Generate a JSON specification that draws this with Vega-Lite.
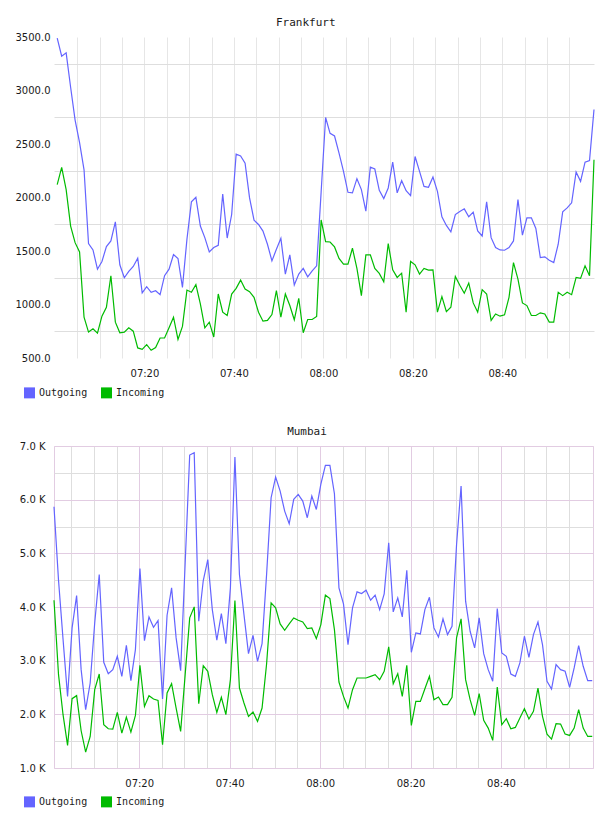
{
  "$schema": "https://vega.github.io/schema/vega-lite/v6.json",
  "background": "white",
  "padding": {"top": 17, "left": 15, "right": 5, "bottom": 5},
  "config": {
    "font": "DejaVu Sans",
    "view": {"stroke": null},
    "axis": {"labelFont": "DejaVu Sans", "labelFontSize": 10, "labelColor": "#1a1a1a", "domain": false, "ticks": false},
    "legend": {"labelFont": "DejaVu Sans Mono", "labelFontSize": 10, "labelColor": "#1a1a1a"},
    "title": {"font": "DejaVu Sans Mono", "fontSize": 11, "fontWeight": "normal", "color": "#1a1a1a"}
  },
  "concat": [
    {
      "width": 540,
      "height": 321,
      "title": {"text": "Frankfurt", "frame": "bounds"},
      "data": {
        "values": [
          {"time": "2024-01-01T07:00:30Z", "Outgoing": 3490, "Incoming": 2120},
          {"time": "2024-01-01T07:01:30Z", "Outgoing": 3321, "Incoming": 2281},
          {"time": "2024-01-01T07:02:30Z", "Outgoing": 3352, "Incoming": 2074},
          {"time": "2024-01-01T07:03:30Z", "Outgoing": 3030, "Incoming": 1733},
          {"time": "2024-01-01T07:04:30Z", "Outgoing": 2724, "Incoming": 1578},
          {"time": "2024-01-01T07:05:30Z", "Outgoing": 2513, "Incoming": 1491},
          {"time": "2024-01-01T07:06:30Z", "Outgoing": 2259, "Incoming": 881},
          {"time": "2024-01-01T07:07:30Z", "Outgoing": 1569, "Incoming": 742},
          {"time": "2024-01-01T07:08:30Z", "Outgoing": 1510, "Incoming": 773},
          {"time": "2024-01-01T07:09:30Z", "Outgoing": 1330, "Incoming": 733},
          {"time": "2024-01-01T07:10:30Z", "Outgoing": 1402, "Incoming": 891},
          {"time": "2024-01-01T07:11:30Z", "Outgoing": 1541, "Incoming": 974},
          {"time": "2024-01-01T07:12:30Z", "Outgoing": 1594, "Incoming": 1269},
          {"time": "2024-01-01T07:13:30Z", "Outgoing": 1773, "Incoming": 835},
          {"time": "2024-01-01T07:14:30Z", "Outgoing": 1371, "Incoming": 736},
          {"time": "2024-01-01T07:15:30Z", "Outgoing": 1250, "Incoming": 742},
          {"time": "2024-01-01T07:16:30Z", "Outgoing": 1309, "Incoming": 782},
          {"time": "2024-01-01T07:17:30Z", "Outgoing": 1355, "Incoming": 751},
          {"time": "2024-01-01T07:18:30Z", "Outgoing": 1433, "Incoming": 594},
          {"time": "2024-01-01T07:19:30Z", "Outgoing": 1108, "Incoming": 581},
          {"time": "2024-01-01T07:20:30Z", "Outgoing": 1166, "Incoming": 625},
          {"time": "2024-01-01T07:21:30Z", "Outgoing": 1114, "Incoming": 572},
          {"time": "2024-01-01T07:22:30Z", "Outgoing": 1129, "Incoming": 597},
          {"time": "2024-01-01T07:23:30Z", "Outgoing": 1092, "Incoming": 687},
          {"time": "2024-01-01T07:24:30Z", "Outgoing": 1269, "Incoming": 687},
          {"time": "2024-01-01T07:25:30Z", "Outgoing": 1330, "Incoming": 782},
          {"time": "2024-01-01T07:26:30Z", "Outgoing": 1467, "Incoming": 881},
          {"time": "2024-01-01T07:27:30Z", "Outgoing": 1430, "Incoming": 674},
          {"time": "2024-01-01T07:28:30Z", "Outgoing": 1160, "Incoming": 795},
          {"time": "2024-01-01T07:29:30Z", "Outgoing": 1609, "Incoming": 1135},
          {"time": "2024-01-01T07:30:30Z", "Outgoing": 1959, "Incoming": 1114},
          {"time": "2024-01-01T07:31:30Z", "Outgoing": 2002, "Incoming": 1185},
          {"time": "2024-01-01T07:32:30Z", "Outgoing": 1733, "Incoming": 1005},
          {"time": "2024-01-01T07:33:30Z", "Outgoing": 1625, "Incoming": 782},
          {"time": "2024-01-01T07:34:30Z", "Outgoing": 1492, "Incoming": 835},
          {"time": "2024-01-01T07:35:30Z", "Outgoing": 1532, "Incoming": 696},
          {"time": "2024-01-01T07:36:30Z", "Outgoing": 1553, "Incoming": 1098},
          {"time": "2024-01-01T07:37:30Z", "Outgoing": 2033, "Incoming": 928},
          {"time": "2024-01-01T07:38:30Z", "Outgoing": 1621, "Incoming": 897},
          {"time": "2024-01-01T07:39:30Z", "Outgoing": 1841, "Incoming": 1098},
          {"time": "2024-01-01T07:40:30Z", "Outgoing": 2405, "Incoming": 1151},
          {"time": "2024-01-01T07:41:30Z", "Outgoing": 2389, "Incoming": 1228},
          {"time": "2024-01-01T07:42:30Z", "Outgoing": 2321, "Incoming": 1144},
          {"time": "2024-01-01T07:43:30Z", "Outgoing": 1996, "Incoming": 1120},
          {"time": "2024-01-01T07:44:30Z", "Outgoing": 1789, "Incoming": 1067},
          {"time": "2024-01-01T07:45:30Z", "Outgoing": 1748, "Incoming": 928},
          {"time": "2024-01-01T07:46:30Z", "Outgoing": 1686, "Incoming": 844},
          {"time": "2024-01-01T07:47:30Z", "Outgoing": 1563, "Incoming": 851},
          {"time": "2024-01-01T07:48:30Z", "Outgoing": 1408, "Incoming": 906},
          {"time": "2024-01-01T07:49:30Z", "Outgoing": 1516, "Incoming": 1129},
          {"time": "2024-01-01T07:50:30Z", "Outgoing": 1618, "Incoming": 881},
          {"time": "2024-01-01T07:51:30Z", "Outgoing": 1284, "Incoming": 1098},
          {"time": "2024-01-01T07:52:30Z", "Outgoing": 1464, "Incoming": 990},
          {"time": "2024-01-01T07:53:30Z", "Outgoing": 1182, "Incoming": 857},
          {"time": "2024-01-01T07:54:30Z", "Outgoing": 1284, "Incoming": 1058},
          {"time": "2024-01-01T07:55:30Z", "Outgoing": 1337, "Incoming": 736},
          {"time": "2024-01-01T07:56:30Z", "Outgoing": 1259, "Incoming": 860},
          {"time": "2024-01-01T07:57:30Z", "Outgoing": 1315, "Incoming": 860},
          {"time": "2024-01-01T07:58:30Z", "Outgoing": 1361, "Incoming": 888},
          {"time": "2024-01-01T07:59:30Z", "Outgoing": 2050, "Incoming": 1790},
          {"time": "2024-01-01T08:00:30Z", "Outgoing": 2748, "Incoming": 1587},
          {"time": "2024-01-01T08:01:30Z", "Outgoing": 2600, "Incoming": 1584},
          {"time": "2024-01-01T08:02:30Z", "Outgoing": 2575, "Incoming": 1538},
          {"time": "2024-01-01T08:03:30Z", "Outgoing": 2414, "Incoming": 1430},
          {"time": "2024-01-01T08:04:30Z", "Outgoing": 2244, "Incoming": 1377},
          {"time": "2024-01-01T08:05:30Z", "Outgoing": 2049, "Incoming": 1377},
          {"time": "2024-01-01T08:06:30Z", "Outgoing": 2043, "Incoming": 1526},
          {"time": "2024-01-01T08:07:30Z", "Outgoing": 2176, "Incoming": 1337},
          {"time": "2024-01-01T08:08:30Z", "Outgoing": 2074, "Incoming": 1083},
          {"time": "2024-01-01T08:09:30Z", "Outgoing": 1872, "Incoming": 1464},
          {"time": "2024-01-01T08:10:30Z", "Outgoing": 2284, "Incoming": 1464},
          {"time": "2024-01-01T08:11:30Z", "Outgoing": 2266, "Incoming": 1337},
          {"time": "2024-01-01T08:12:30Z", "Outgoing": 2067, "Incoming": 1290},
          {"time": "2024-01-01T08:13:30Z", "Outgoing": 1990, "Incoming": 1213},
          {"time": "2024-01-01T08:14:30Z", "Outgoing": 2089, "Incoming": 1569},
          {"time": "2024-01-01T08:15:30Z", "Outgoing": 2330, "Incoming": 1324},
          {"time": "2024-01-01T08:16:30Z", "Outgoing": 2043, "Incoming": 1253},
          {"time": "2024-01-01T08:17:30Z", "Outgoing": 2157, "Incoming": 1293},
          {"time": "2024-01-01T08:18:30Z", "Outgoing": 2064, "Incoming": 928},
          {"time": "2024-01-01T08:19:30Z", "Outgoing": 2018, "Incoming": 1402},
          {"time": "2024-01-01T08:20:30Z", "Outgoing": 2383, "Incoming": 1371},
          {"time": "2024-01-01T08:21:30Z", "Outgoing": 2244, "Incoming": 1284},
          {"time": "2024-01-01T08:22:30Z", "Outgoing": 2104, "Incoming": 1337},
          {"time": "2024-01-01T08:23:30Z", "Outgoing": 2095, "Incoming": 1321},
          {"time": "2024-01-01T08:24:30Z", "Outgoing": 2191, "Incoming": 1324},
          {"time": "2024-01-01T08:25:30Z", "Outgoing": 2058, "Incoming": 928},
          {"time": "2024-01-01T08:26:30Z", "Outgoing": 1820, "Incoming": 1074},
          {"time": "2024-01-01T08:27:30Z", "Outgoing": 1739, "Incoming": 934},
          {"time": "2024-01-01T08:28:30Z", "Outgoing": 1680, "Incoming": 974},
          {"time": "2024-01-01T08:29:30Z", "Outgoing": 1841, "Incoming": 1262},
          {"time": "2024-01-01T08:30:30Z", "Outgoing": 1870, "Incoming": 1180},
          {"time": "2024-01-01T08:31:30Z", "Outgoing": 1894, "Incoming": 1105},
          {"time": "2024-01-01T08:32:30Z", "Outgoing": 1820, "Incoming": 1200},
          {"time": "2024-01-01T08:33:30Z", "Outgoing": 1863, "Incoming": 1015},
          {"time": "2024-01-01T08:34:30Z", "Outgoing": 1687, "Incoming": 928},
          {"time": "2024-01-01T08:35:30Z", "Outgoing": 1640, "Incoming": 1139},
          {"time": "2024-01-01T08:36:30Z", "Outgoing": 1959, "Incoming": 1098},
          {"time": "2024-01-01T08:37:30Z", "Outgoing": 1625, "Incoming": 851},
          {"time": "2024-01-01T08:38:30Z", "Outgoing": 1532, "Incoming": 912},
          {"time": "2024-01-01T08:39:30Z", "Outgoing": 1510, "Incoming": 891},
          {"time": "2024-01-01T08:40:30Z", "Outgoing": 1507, "Incoming": 903},
          {"time": "2024-01-01T08:41:30Z", "Outgoing": 1532, "Incoming": 1067},
          {"time": "2024-01-01T08:42:30Z", "Outgoing": 1594, "Incoming": 1392},
          {"time": "2024-01-01T08:43:30Z", "Outgoing": 1981, "Incoming": 1238},
          {"time": "2024-01-01T08:44:30Z", "Outgoing": 1649, "Incoming": 1015},
          {"time": "2024-01-01T08:45:30Z", "Outgoing": 1810, "Incoming": 990},
          {"time": "2024-01-01T08:46:30Z", "Outgoing": 1810, "Incoming": 897},
          {"time": "2024-01-01T08:47:30Z", "Outgoing": 1711, "Incoming": 897},
          {"time": "2024-01-01T08:48:30Z", "Outgoing": 1439, "Incoming": 922},
          {"time": "2024-01-01T08:49:30Z", "Outgoing": 1445, "Incoming": 912},
          {"time": "2024-01-01T08:50:30Z", "Outgoing": 1414, "Incoming": 835},
          {"time": "2024-01-01T08:51:30Z", "Outgoing": 1392, "Incoming": 835},
          {"time": "2024-01-01T08:52:30Z", "Outgoing": 1563, "Incoming": 1114},
          {"time": "2024-01-01T08:53:30Z", "Outgoing": 1866, "Incoming": 1083},
          {"time": "2024-01-01T08:54:30Z", "Outgoing": 1903, "Incoming": 1114},
          {"time": "2024-01-01T08:55:30Z", "Outgoing": 1950, "Incoming": 1092},
          {"time": "2024-01-01T08:56:30Z", "Outgoing": 2238, "Incoming": 1253},
          {"time": "2024-01-01T08:57:30Z", "Outgoing": 2151, "Incoming": 1244},
          {"time": "2024-01-01T08:58:30Z", "Outgoing": 2330, "Incoming": 1361},
          {"time": "2024-01-01T08:59:30Z", "Outgoing": 2346, "Incoming": 1269},
          {"time": "2024-01-01T09:00:30Z", "Outgoing": 2823, "Incoming": 2352}
        ]
      },
      "transform": [{"fold": ["Outgoing", "Incoming"], "as": ["series", "value"]}],
      "mark": {"type": "line", "strokeWidth": 1.2},
      "encoding": {
        "x": {
          "field": "time",
          "type": "temporal",
          "title": null,
          "scale": {"type": "utc", "nice": false, "domain": [1704092387000, 1704099630000]},
          "axis": {
            "values": [1704092700000, 1704093000000, 1704093300000, 1704093600000, 1704093900000, 1704094200000, 1704094500000, 1704094800000, 1704095100000, 1704095400000, 1704095700000, 1704096000000, 1704096300000, 1704096600000, 1704096900000, 1704097200000, 1704097500000, 1704097800000, 1704098100000, 1704098400000, 1704098700000, 1704099000000, 1704099300000],
            "labelExpr": "utcminutes(datum.value) % 20 == 0 ? utcFormat(datum.value, '%H:%M') : ''",
            "labelOverlap": false,
            "labelFlush": false,
            "gridColor": "#e6e6e6",
            "labelPadding": 10
          }
        },
        "y": {
          "field": "value",
          "type": "quantitative",
          "title": null,
          "scale": {"domain": [500, 3500], "nice": false, "zero": false},
          "axis": {
            "values": [500, 750, 1000, 1250, 1500, 1750, 2000, 2250, 2500, 2750, 3000, 3250, 3500],
            "labelExpr": "datum.value % 500 == 0 ? format(datum.value, '.1f') : ''",
            "labelOverlap": false,
            "gridColor": {"condition": {"test": "datum.value % 500 == 0", "value": "transparent"}, "value": "#dedede"},
            "labelPadding": 4
          }
        },
        "color": {
          "field": "series",
          "type": "nominal",
          "title": null,
          "scale": {"domain": ["Outgoing", "Incoming"], "range": ["#6464ff", "#00bb00"]},
          "legend": {
            "orient": "none",
            "legendX": -30,
            "legendY": 350,
            "direction": "horizontal",
            "symbolType": "square",
            "symbolSize": 30,
            "symbolStrokeWidth": 5.5,
            "labelOffset": 4,
            "columnPadding": 4,
            "padding": 0
          }
        }
      }
    },
    {
      "width": 539,
      "height": 322,
      "title": {"text": "Mumbai", "frame": "bounds"},
      "view": {"stroke": "#e2cce2"},
      "data": {
        "values": [
          {"time": "2024-01-01T07:01:10Z", "Outgoing": 5868, "Incoming": 4126},
          {"time": "2024-01-01T07:02:10Z", "Outgoing": 4500, "Incoming": 2739},
          {"time": "2024-01-01T07:03:10Z", "Outgoing": 3400, "Incoming": 1993},
          {"time": "2024-01-01T07:04:10Z", "Outgoing": 2335, "Incoming": 1421},
          {"time": "2024-01-01T07:05:10Z", "Outgoing": 3610, "Incoming": 2292},
          {"time": "2024-01-01T07:06:10Z", "Outgoing": 4213, "Incoming": 2348},
          {"time": "2024-01-01T07:07:10Z", "Outgoing": 2833, "Incoming": 1694},
          {"time": "2024-01-01T07:08:10Z", "Outgoing": 2086, "Incoming": 1296},
          {"time": "2024-01-01T07:09:10Z", "Outgoing": 2584, "Incoming": 1588},
          {"time": "2024-01-01T07:10:10Z", "Outgoing": 3703, "Incoming": 2459},
          {"time": "2024-01-01T07:11:10Z", "Outgoing": 4605, "Incoming": 2752},
          {"time": "2024-01-01T07:12:10Z", "Outgoing": 2970, "Incoming": 1806},
          {"time": "2024-01-01T07:13:10Z", "Outgoing": 2758, "Incoming": 1731},
          {"time": "2024-01-01T07:14:10Z", "Outgoing": 2833, "Incoming": 1725},
          {"time": "2024-01-01T07:15:10Z", "Outgoing": 3081, "Incoming": 2036},
          {"time": "2024-01-01T07:16:10Z", "Outgoing": 2708, "Incoming": 1651},
          {"time": "2024-01-01T07:17:10Z", "Outgoing": 3287, "Incoming": 1949},
          {"time": "2024-01-01T07:18:10Z", "Outgoing": 2627, "Incoming": 1669},
          {"time": "2024-01-01T07:19:10Z", "Outgoing": 3206, "Incoming": 1980},
          {"time": "2024-01-01T07:20:10Z", "Outgoing": 4717, "Incoming": 2914},
          {"time": "2024-01-01T07:21:10Z", "Outgoing": 3374, "Incoming": 2148},
          {"time": "2024-01-01T07:22:10Z", "Outgoing": 3815, "Incoming": 2348},
          {"time": "2024-01-01T07:23:10Z", "Outgoing": 3623, "Incoming": 2285},
          {"time": "2024-01-01T07:24:10Z", "Outgoing": 3747, "Incoming": 2260},
          {"time": "2024-01-01T07:25:10Z", "Outgoing": 2285, "Incoming": 1433},
          {"time": "2024-01-01T07:26:10Z", "Outgoing": 3847, "Incoming": 2397},
          {"time": "2024-01-01T07:27:10Z", "Outgoing": 4357, "Incoming": 2571},
          {"time": "2024-01-01T07:28:10Z", "Outgoing": 3424, "Incoming": 2117},
          {"time": "2024-01-01T07:29:10Z", "Outgoing": 2814, "Incoming": 1682},
          {"time": "2024-01-01T07:30:10Z", "Outgoing": 4820, "Incoming": 2740},
          {"time": "2024-01-01T07:31:10Z", "Outgoing": 6832, "Incoming": 3797},
          {"time": "2024-01-01T07:32:10Z", "Outgoing": 6876, "Incoming": 4002},
          {"time": "2024-01-01T07:33:10Z", "Outgoing": 3735, "Incoming": 2198},
          {"time": "2024-01-01T07:34:10Z", "Outgoing": 4493, "Incoming": 2907},
          {"time": "2024-01-01T07:35:10Z", "Outgoing": 4885, "Incoming": 2802},
          {"time": "2024-01-01T07:36:10Z", "Outgoing": 3952, "Incoming": 2366},
          {"time": "2024-01-01T07:37:10Z", "Outgoing": 3380, "Incoming": 2036},
          {"time": "2024-01-01T07:38:10Z", "Outgoing": 3878, "Incoming": 2317},
          {"time": "2024-01-01T07:39:10Z", "Outgoing": 3318, "Incoming": 1993},
          {"time": "2024-01-01T07:40:10Z", "Outgoing": 4357, "Incoming": 2646},
          {"time": "2024-01-01T07:41:10Z", "Outgoing": 6795, "Incoming": 4120},
          {"time": "2024-01-01T07:42:10Z", "Outgoing": 4605, "Incoming": 2490},
          {"time": "2024-01-01T07:43:10Z", "Outgoing": 3859, "Incoming": 2211},
          {"time": "2024-01-01T07:44:10Z", "Outgoing": 3131, "Incoming": 1962},
          {"time": "2024-01-01T07:45:10Z", "Outgoing": 3473, "Incoming": 2043},
          {"time": "2024-01-01T07:46:10Z", "Outgoing": 2988, "Incoming": 1869},
          {"time": "2024-01-01T07:47:10Z", "Outgoing": 3318, "Incoming": 2117},
          {"time": "2024-01-01T07:48:10Z", "Outgoing": 4605, "Incoming": 2938},
          {"time": "2024-01-01T07:49:10Z", "Outgoing": 6036, "Incoming": 4076},
          {"time": "2024-01-01T07:50:10Z", "Outgoing": 6422, "Incoming": 3983},
          {"time": "2024-01-01T07:51:10Z", "Outgoing": 6160, "Incoming": 3685},
          {"time": "2024-01-01T07:52:10Z", "Outgoing": 5787, "Incoming": 3567},
          {"time": "2024-01-01T07:53:10Z", "Outgoing": 5551, "Incoming": 3685},
          {"time": "2024-01-01T07:54:10Z", "Outgoing": 6005, "Incoming": 3797},
          {"time": "2024-01-01T07:55:10Z", "Outgoing": 6098, "Incoming": 3753},
          {"time": "2024-01-01T07:56:10Z", "Outgoing": 5974, "Incoming": 3722},
          {"time": "2024-01-01T07:57:10Z", "Outgoing": 5663, "Incoming": 3598},
          {"time": "2024-01-01T07:58:10Z", "Outgoing": 6067, "Incoming": 3610},
          {"time": "2024-01-01T07:59:10Z", "Outgoing": 5818, "Incoming": 3411},
          {"time": "2024-01-01T08:00:10Z", "Outgoing": 6290, "Incoming": 3672},
          {"time": "2024-01-01T08:01:10Z", "Outgoing": 6639, "Incoming": 4220},
          {"time": "2024-01-01T08:02:10Z", "Outgoing": 6639, "Incoming": 4157},
          {"time": "2024-01-01T08:03:10Z", "Outgoing": 6110, "Incoming": 3579},
          {"time": "2024-01-01T08:04:10Z", "Outgoing": 4357, "Incoming": 2602},
          {"time": "2024-01-01T08:05:10Z", "Outgoing": 4058, "Incoming": 2335},
          {"time": "2024-01-01T08:06:10Z", "Outgoing": 3299, "Incoming": 2117},
          {"time": "2024-01-01T08:07:10Z", "Outgoing": 3983, "Incoming": 2459},
          {"time": "2024-01-01T08:08:10Z", "Outgoing": 4282, "Incoming": 2677},
          {"time": "2024-01-01T08:09:10Z", "Outgoing": 4251, "Incoming": 2677},
          {"time": "2024-01-01T08:10:10Z", "Outgoing": 4313, "Incoming": 2677},
          {"time": "2024-01-01T08:11:10Z", "Outgoing": 4126, "Incoming": 2708},
          {"time": "2024-01-01T08:12:10Z", "Outgoing": 4220, "Incoming": 2739},
          {"time": "2024-01-01T08:13:10Z", "Outgoing": 3952, "Incoming": 2646},
          {"time": "2024-01-01T08:14:10Z", "Outgoing": 4245, "Incoming": 2802},
          {"time": "2024-01-01T08:15:10Z", "Outgoing": 5196, "Incoming": 3256},
          {"time": "2024-01-01T08:16:10Z", "Outgoing": 3909, "Incoming": 2571},
          {"time": "2024-01-01T08:17:10Z", "Outgoing": 4170, "Incoming": 2758},
          {"time": "2024-01-01T08:18:10Z", "Outgoing": 3815, "Incoming": 2335},
          {"time": "2024-01-01T08:19:10Z", "Outgoing": 4686, "Incoming": 2914},
          {"time": "2024-01-01T08:20:10Z", "Outgoing": 3156, "Incoming": 1794},
          {"time": "2024-01-01T08:21:10Z", "Outgoing": 3517, "Incoming": 2242},
          {"time": "2024-01-01T08:22:10Z", "Outgoing": 3498, "Incoming": 2242},
          {"time": "2024-01-01T08:23:10Z", "Outgoing": 3952, "Incoming": 2478},
          {"time": "2024-01-01T08:24:10Z", "Outgoing": 4182, "Incoming": 2708},
          {"time": "2024-01-01T08:25:10Z", "Outgoing": 3610, "Incoming": 2273},
          {"time": "2024-01-01T08:26:10Z", "Outgoing": 3442, "Incoming": 2323},
          {"time": "2024-01-01T08:27:10Z", "Outgoing": 3778, "Incoming": 2180},
          {"time": "2024-01-01T08:28:10Z", "Outgoing": 3486, "Incoming": 2180},
          {"time": "2024-01-01T08:29:10Z", "Outgoing": 3641, "Incoming": 2317},
          {"time": "2024-01-01T08:30:10Z", "Outgoing": 5160, "Incoming": 3424},
          {"time": "2024-01-01T08:31:10Z", "Outgoing": 6254, "Incoming": 3778},
          {"time": "2024-01-01T08:32:10Z", "Outgoing": 4108, "Incoming": 2646},
          {"time": "2024-01-01T08:33:10Z", "Outgoing": 3548, "Incoming": 2273},
          {"time": "2024-01-01T08:34:10Z", "Outgoing": 3237, "Incoming": 1980},
          {"time": "2024-01-01T08:35:10Z", "Outgoing": 3797, "Incoming": 2385},
          {"time": "2024-01-01T08:36:10Z", "Outgoing": 3131, "Incoming": 1888},
          {"time": "2024-01-01T08:37:10Z", "Outgoing": 2833, "Incoming": 1744},
          {"time": "2024-01-01T08:38:10Z", "Outgoing": 2615, "Incoming": 1514},
          {"time": "2024-01-01T08:39:10Z", "Outgoing": 3971, "Incoming": 2509},
          {"time": "2024-01-01T08:40:10Z", "Outgoing": 3144, "Incoming": 1806},
          {"time": "2024-01-01T08:41:10Z", "Outgoing": 3081, "Incoming": 1918},
          {"time": "2024-01-01T08:42:10Z", "Outgoing": 2752, "Incoming": 1731},
          {"time": "2024-01-01T08:43:10Z", "Outgoing": 2708, "Incoming": 1756},
          {"time": "2024-01-01T08:44:10Z", "Outgoing": 2957, "Incoming": 1931},
          {"time": "2024-01-01T08:45:10Z", "Outgoing": 3455, "Incoming": 2105},
          {"time": "2024-01-01T08:46:10Z", "Outgoing": 3063, "Incoming": 1912},
          {"time": "2024-01-01T08:47:10Z", "Outgoing": 3486, "Incoming": 2055},
          {"time": "2024-01-01T08:48:10Z", "Outgoing": 3722, "Incoming": 2490},
          {"time": "2024-01-01T08:49:10Z", "Outgoing": 3299, "Incoming": 1962},
          {"time": "2024-01-01T08:50:10Z", "Outgoing": 2615, "Incoming": 1632},
          {"time": "2024-01-01T08:51:10Z", "Outgoing": 2472, "Incoming": 1539},
          {"time": "2024-01-01T08:52:10Z", "Outgoing": 2926, "Incoming": 1825},
          {"time": "2024-01-01T08:53:10Z", "Outgoing": 2833, "Incoming": 1819},
          {"time": "2024-01-01T08:54:10Z", "Outgoing": 2802, "Incoming": 1632},
          {"time": "2024-01-01T08:55:10Z", "Outgoing": 2503, "Incoming": 1607},
          {"time": "2024-01-01T08:56:10Z", "Outgoing": 2864, "Incoming": 1744},
          {"time": "2024-01-01T08:57:10Z", "Outgoing": 3281, "Incoming": 2086},
          {"time": "2024-01-01T08:58:10Z", "Outgoing": 2895, "Incoming": 1744},
          {"time": "2024-01-01T08:59:10Z", "Outgoing": 2627, "Incoming": 1588},
          {"time": "2024-01-01T09:00:10Z", "Outgoing": 2627, "Incoming": 1588}
        ]
      },
      "transform": [{"fold": ["Outgoing", "Incoming"], "as": ["series", "value"]}],
      "mark": {"type": "line", "strokeWidth": 1.2},
      "encoding": {
        "x": {
          "field": "time",
          "type": "temporal",
          "title": null,
          "scale": {"type": "utc", "nice": false, "domain": [1704092470000, 1704099620000]},
          "axis": {
            "values": [1704092700000, 1704093000000, 1704093300000, 1704093600000, 1704093900000, 1704094200000, 1704094500000, 1704094800000, 1704095100000, 1704095400000, 1704095700000, 1704096000000, 1704096300000, 1704096600000, 1704096900000, 1704097200000, 1704097500000, 1704097800000, 1704098100000, 1704098400000, 1704098700000, 1704099000000, 1704099300000],
            "labelExpr": "utcminutes(datum.value) % 20 == 0 ? utcFormat(datum.value, '%H:%M') : ''",
            "labelOverlap": false,
            "labelFlush": false,
            "gridColor": {"condition": {"test": "utcminutes(datum.value) % 20 == 0", "value": "#e2cce2"}, "value": "#dedede"},
            "labelPadding": 10
          }
        },
        "y": {
          "field": "value",
          "type": "quantitative",
          "title": null,
          "scale": {"domain": [1000, 7000], "nice": false, "zero": false},
          "axis": {
            "values": [1000, 1500, 2000, 2500, 3000, 3500, 4000, 4500, 5000, 5500, 6000, 6500, 7000],
            "labelExpr": "datum.value % 1000 == 0 ? format(datum.value / 1000, '.1f') + ' K' : ''",
            "labelOverlap": false,
            "gridColor": {"condition": {"test": "datum.value % 1000 == 0", "value": "#e2cce2"}, "value": "#dedede"},
            "labelPadding": 9
          }
        },
        "color": {
          "field": "series",
          "type": "nominal",
          "title": null,
          "scale": {"domain": ["Outgoing", "Incoming"], "range": ["#6464ff", "#00bb00"]},
          "legend": {
            "orient": "none",
            "legendX": -30,
            "legendY": 350,
            "direction": "horizontal",
            "symbolType": "square",
            "symbolSize": 30,
            "symbolStrokeWidth": 5.5,
            "labelOffset": 4,
            "columnPadding": 4,
            "padding": 0
          }
        }
      }
    }
  ],
  "columns": 1,
  "align": "none",
  "spacing": 18,
  "resolve": {"scale": {"color": "independent"}, "legend": {"color": "independent"}}
}
